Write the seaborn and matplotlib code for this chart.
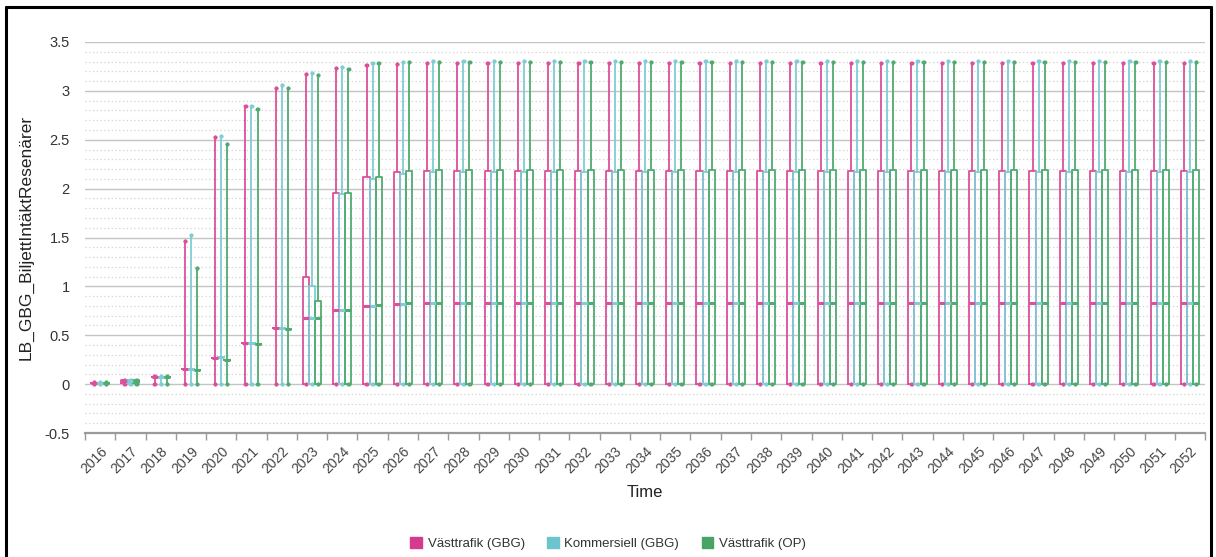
import numpy as np
import pandas as pd
import matplotlib
matplotlib.use("Agg")
import matplotlib.pyplot as plt
from matplotlib.patches import Patch
from matplotlib.lines import Line2D
from matplotlib.ticker import FixedLocator, FuncFormatter
import seaborn as sns

# ---- data -------------------------------------------------------------
years = [str(y) for y in range(2016, 2053)]
series_names = ["Västtrafik (GBG)", "Kommersiell (GBG)", "Västtrafik (OP)"]

tail = 26  # 2027 .. 2052

vt_gbg_max = [0.02, 0.045, 0.08, 1.46, 2.53, 2.85, 3.03, 3.17, 3.23, 3.26, 3.28] + [3.29] * tail
vt_gbg_q3 = [0.015, 0.04, 0.075, 0.15, 0.27, 0.42, 0.57, 1.10, 1.96, 2.12, 2.17] + [2.18] * tail
vt_gbg_med = [0.015, 0.03, 0.075, 0.15, 0.27, 0.42, 0.57, 0.68, 0.76, 0.80, 0.82] + [0.83] * tail
vt_gbg_q1 = [0.015, 0.01, 0.075, 0.15, 0.27, 0.42, 0.57, 0.0, 0.0, 0.0, 0.0] + [0.0] * tail

kom_gbg_max = [0.02, 0.045, 0.08, 1.53, 2.54, 2.85, 3.06, 3.18, 3.24, 3.29, 3.30] + [3.31] * tail
kom_gbg_q3 = [0.015, 0.04, 0.075, 0.15, 0.28, 0.42, 0.57, 1.00, 1.95, 2.10, 2.15] + [2.17] * tail
kom_gbg_med = [0.015, 0.03, 0.075, 0.15, 0.28, 0.42, 0.57, 0.68, 0.76, 0.80, 0.82] + [0.83] * tail
kom_gbg_q1 = [0.015, 0.01, 0.075, 0.15, 0.28, 0.42, 0.57, 0.0, 0.0, 0.0, 0.0] + [0.0] * tail

vt_op_max = [0.02, 0.045, 0.08, 1.19, 2.46, 2.81, 3.03, 3.16, 3.22, 3.29, 3.30] + [3.30] * tail
vt_op_q3 = [0.015, 0.04, 0.075, 0.14, 0.25, 0.41, 0.56, 0.85, 1.96, 2.12, 2.18] + [2.19] * tail
vt_op_med = [0.015, 0.03, 0.075, 0.14, 0.25, 0.41, 0.56, 0.68, 0.76, 0.81, 0.83] + [0.83] * tail
vt_op_q1 = [0.015, 0.01, 0.075, 0.14, 0.25, 0.41, 0.56, 0.0, 0.0, 0.0, 0.0] + [0.0] * tail

minimum = [0.0] * len(years)

colors = ["#dc4f9a", "#7fcdd6", "#4fab70"]
legend_colors = ["#d63a8e", "#6cc4ce", "#48a464"]

# five-number summaries -> long-form table (one row per summary value)
summaries = {
    series_names[0]: (minimum, vt_gbg_q1, vt_gbg_med, vt_gbg_q3, vt_gbg_max),
    series_names[1]: (minimum, kom_gbg_q1, kom_gbg_med, kom_gbg_q3, kom_gbg_max),
    series_names[2]: (minimum, vt_op_q1, vt_op_med, vt_op_q3, vt_op_max),
}
rows = []
for name, cols in summaries.items():
    for i, yr in enumerate(years):
        for col in cols:
            rows.append({"Time": yr, "serie": name, "value": col[i]})
df = pd.DataFrame(rows)

# ---- figure -----------------------------------------------------------
sns.set_theme(style="white")
plt.rcParams["font.family"] = ["Liberation Sans", "DejaVu Sans"]
plt.rcParams["axes.unicode_minus"] = False

fig = plt.figure(figsize=(12.16, 5.57), dpi=100)
ax = fig.add_axes([0.0699, 0.2226, 0.9211, 0.7020])

# whiskers span the full range (0th to 100th percentile)
sns.boxplot(
    data=df, x="Time", y="value", hue="serie",
    order=years, hue_order=series_names, palette=colors,
    fill=False, width=0.6, gap=0, whis=(0, 100), showfliers=False,
    linewidth=1.3, legend=False, ax=ax,
    capwidths=0.01,
    capprops=dict(marker="o", markersize=2.8, markeredgewidth=0, linestyle="none"),
    medianprops=dict(linewidth=2.2),
)

# y axis
ax.set_ylim(-0.5, 3.5)
ax.set_xlim(-0.5, len(years) - 0.5)
major_y = np.arange(-0.5, 3.51, 0.5)
minor_y = [v for v in np.round(np.arange(-0.5, 3.5, 0.1), 2) if abs(v * 2 - round(v * 2)) > 1e-6]
ax.yaxis.set_major_locator(FixedLocator(major_y))
ax.yaxis.set_minor_locator(FixedLocator(minor_y))
ax.yaxis.set_major_formatter(FuncFormatter(lambda v, p: f"{v:g}"))
ax.grid(axis="y", which="major", color="#c4c4c4", linewidth=1.0, linestyle="-")
ax.grid(axis="y", which="minor", color="#d2d2d2", linewidth=0.9, linestyle=(0, (1, 2)))
ax.set_axisbelow(True)
ax.tick_params(axis="y", which="both", length=0, labelsize=10.5, labelcolor="#333333", pad=11)

# x axis: labels at category centres, tick marks at boundaries
ax.set_xticks(range(len(years)))
ax.set_xticklabels(years, rotation=45, ha="right", rotation_mode="anchor")
ax.set_xticks(np.arange(-0.5, len(years), 1.0), minor=True)
ax.tick_params(axis="x", which="major", length=0, labelsize=10, labelcolor="#444444", pad=8)
ax.tick_params(axis="x", which="minor", length=5, width=1.0, color="#999999", bottom=True)

for side in ("left", "right", "top"):
    ax.spines[side].set_visible(False)
ax.spines["bottom"].set_color("#9a9a9a")
ax.spines["bottom"].set_linewidth(1.6)

ax.set_xlabel("Time", fontsize=12, color="#222222", labelpad=6)
ax.set_ylabel("LB_GBG_BiljettIntäktResenärer", fontsize=12.5, color="#222222", labelpad=8)

# legend
handles = [Patch(facecolor=c, edgecolor=c, label=n) for c, n in zip(legend_colors, series_names)]
fig.legend(handles=handles, loc="center", bbox_to_anchor=(0.5, 0.024), ncol=3,
           frameon=False, fontsize=9.5, handlelength=0.9, handleheight=0.9,
           handletextpad=0.4, columnspacing=1.7, labelcolor="#333333")

# outer frame
frame_kw = dict(color="black", linewidth=2.2, transform=fig.transFigure)
fig.add_artist(Line2D([0.0049, 0.0049], [-0.01, 0.9875], **frame_kw))
fig.add_artist(Line2D([0.0049, 0.9955], [0.9875, 0.9875], **frame_kw))
fig.add_artist(Line2D([0.9955, 0.9955], [-0.01, 0.9875], **frame_kw))

fig.savefig("out.png", dpi=100, facecolor="white")
